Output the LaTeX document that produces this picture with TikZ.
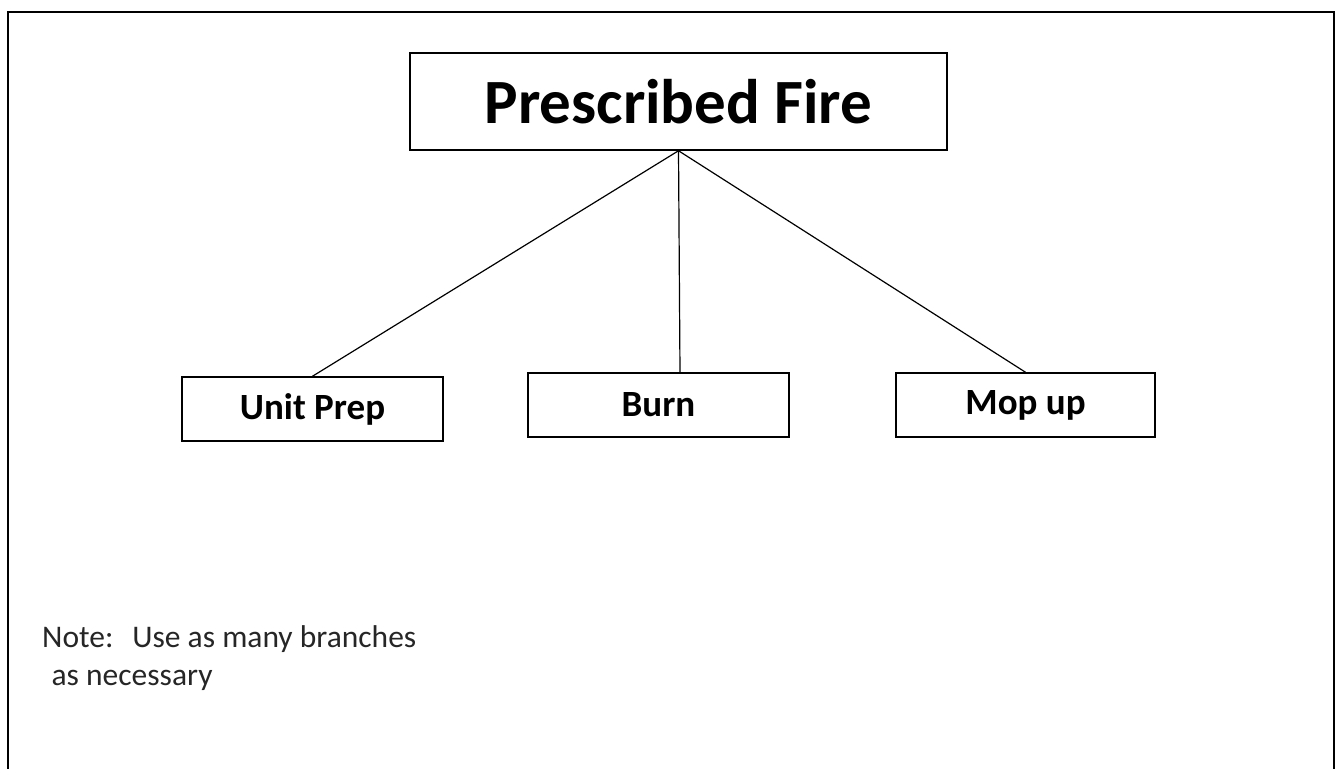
\documentclass[tikz,border=0pt]{standalone}
\usepackage{fontspec}
\setmainfont{Carlito}
\begin{document}
\begin{tikzpicture}[x=1pt,y=-1pt,
  box/.style={draw, line width=1.5pt, inner sep=0pt},
  title/.style={font=\bfseries\fontsize{63}{66}\selectfont},
  step label/.style={font=\bfseries\fontsize{37}{40}\selectfont},
  link/.style={line width=1.2pt}]
\useasboundingbox (0,0) rectangle (1335,768);
% open frame around the chart
\draw[line width=2pt] (8,770) -- (8,12.5) -- (1333.5,12.5) -- (1333.5,770);
% boxes
\node[box, title, minimum width=537pt, minimum height=97pt] (top) at (678.5,101.5) {Prescribed Fire};
\node[box, step label, minimum width=261pt, minimum height=64pt] (unit) at (312.5,409) {Unit Prep};
\node[box, step label, minimum width=261pt, minimum height=64pt] (burn) at (658.5,405) {Burn};
\node[box, step label, minimum width=259pt, minimum height=64pt] (mop) at (1025.5,405) {Mop up};
% branches
\coordinate (burntop) at (680,373);
\draw[link] (top.south) -- (unit.north);
\draw[link] (top.south) -- (burntop);
\draw[link] (top.south) -- (mop.north);
% note
\node[anchor=base west, inner sep=0pt, font=\fontsize{31.5}{38}\selectfont, text=black!85, align=left] (note) at (42,685) {Note:\hspace{0.6em}Use as many branches\\\hspace{0.3em}as necessary};
\end{tikzpicture}
\end{document}
